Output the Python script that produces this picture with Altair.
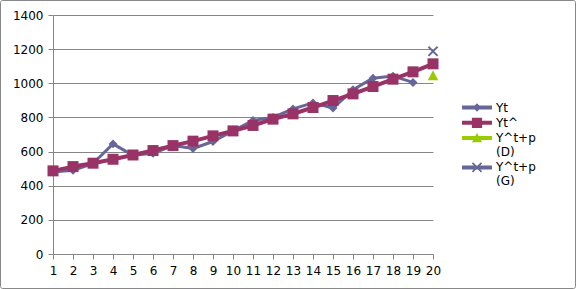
import altair as alt
import pandas as pd

# ---- data ----
t_values = list(range(1, 21))
yt_values = [480, 490, 530, 645, 578, 590, 635, 618, 659, 721,
             782, 800, 850, 885, 855, 962, 1030, 1042, 1005]          # t = 1..19
yt_hat_values = [487, 512, 532, 555, 580, 606, 635, 661, 692, 721,
                 753, 790, 821, 858, 899, 938, 981, 1024, 1067, 1114]  # t = 1..20
d_t = [20]
d_values = [1045]
g_t = [20]
g_values = [1187]
series_names = ["Yt", "Yt^", "Y^t+p (D)", "Y^t+p (G)"]
y_ticks = list(range(0, 1401, 200))

df = pd.concat([
    pd.DataFrame({"t": t_values[:len(yt_values)], "value": yt_values, "series": series_names[0]}),
    pd.DataFrame({"t": t_values, "value": yt_hat_values, "series": series_names[1]}),
    pd.DataFrame({"t": d_t, "value": d_values, "series": series_names[2]}),
    pd.DataFrame({"t": g_t, "value": g_values, "series": series_names[3]}),
], ignore_index=True)

# ---- styles ----
C_YT = "#666699"
C_HAT = "#993366"
C_D = "#99CC00"
C_G = "#666699"
GRID = "#868686"
FONT = "DejaVu Sans"

DIAMOND = "M0,-1L1,0L0,1L-1,0Z"
SQUARE = "M-1,-1H1V1H-1Z"
TRIANGLE = "M0,-1L1,0.9L-1,0.9Z"


def x_shape(cx, a, e):
    pts = [(-a, -a + e), (-a + e, -a), (0, -e), (a - e, -a), (a, -a + e), (e, 0),
           (a, a - e), (a - e, a), (0, e), (-a + e, a), (-a, a - e), (-e, 0)]
    return "M" + "L".join(f"{x + cx:.3f},{y:.3f}" for x, y in pts) + "Z"


XMARK = x_shape(0, 1, 0.25)

# legend symbols: unit = 6 px (symbolSize 144); line 30 px long from the entry's left edge
LC = 1.5  # marker centre on the line
LINE = "M-1,-0.33H4V0.33H-1Z"
legend_paths = [
    LINE + f" M{LC},-0.7L{LC+0.7},0L{LC},0.7L{LC-0.7},0Z",
    LINE + f" M{LC-0.85},-0.85H{LC+0.85}V0.85H{LC-0.85}Z",
    LINE + f" M{LC},-0.85L{LC+0.85},0.7L{LC-0.85},0.7Z",
    LINE + " " + x_shape(LC, 0.85, 0.2),
]
colors = [C_YT, C_HAT, C_D, C_G]

x_enc = alt.X("t:Q",
              scale=alt.Scale(domain=[1, 20], nice=False, zero=False),
              axis=alt.Axis(values=t_values, format="d", grid=False, tickSize=5,
                            labelPadding=6, title=None, labelFlush=False,
                            labelOverlap=False))
y_enc = alt.Y("value:Q",
              scale=alt.Scale(domain=[0, 1400], nice=False),
              axis=alt.Axis(values=y_ticks, format="d", grid=True, tickSize=5,
                            labelPadding=5, title=None))

base = alt.Chart(df)


def line_layer(name, color, width):
    return base.transform_filter(alt.datum.series == name).mark_line(
        color=color, strokeWidth=width, strokeJoin="round"
    ).encode(x=x_enc, y=y_enc, order="t:Q")


def point_layer(name, path, size, color):
    return base.transform_filter(alt.datum.series == name).mark_point(
        shape=path, size=size, filled=True, opacity=1, color=color, strokeWidth=0
    ).encode(x=x_enc, y=y_enc)


leg = alt.Legend(title=None, orient="none", legendX=409, legendY=86.5,
                 symbolSize=144, symbolStrokeWidth=0, labelFont=FONT, labelFontSize=12,
                 labelColor="black", labelOffset=22, rowPadding=3.3, padding=0,
                 labelLimit=300, labelExpr="split(datum.label, ' ')")

legend_layer = base.transform_filter("false").mark_point(filled=True, opacity=1).encode(
    x=x_enc, y=y_enc,
    fill=alt.Fill("series:N", scale=alt.Scale(domain=series_names, range=colors), legend=leg),
    shape=alt.Shape("series:N", scale=alt.Scale(domain=series_names, range=legend_paths), legend=leg),
)

frame = alt.Chart(pd.DataFrame({"k": [0]})).mark_rect(
    fillOpacity=0, stroke="#888888", strokeWidth=1, cornerRadius=2
).encode(x=alt.value(-52.5), x2=alt.value(522.5), y=alt.value(-14.5), y2=alt.value(273.5))

chart = alt.layer(
    line_layer("Yt", C_YT, 3),
    point_layer("Yt", DIAMOND, 80, C_YT),
    line_layer("Yt^", C_HAT, 4),
    point_layer("Yt^", SQUARE, 121, C_HAT),
    point_layer("Y^t+p (D)", TRIANGLE, 110, C_D),
    point_layer("Y^t+p (G)", XMARK, 110, C_G),
    legend_layer,
    frame,
).properties(
    width=380, height=239,
    autosize=alt.AutoSizeParams(type="none"),
    padding={"left": 53, "top": 15, "right": 143, "bottom": 35},
    background="white",
).configure_view(stroke=None).configure_axis(
    labelFont=FONT, labelFontSize=12, labelColor="black",
    domainColor=GRID, tickColor=GRID, gridColor=GRID, gridWidth=1, domainWidth=1
)

chart.save("out.html", embed_options={"renderer": "svg", "actions": False})
